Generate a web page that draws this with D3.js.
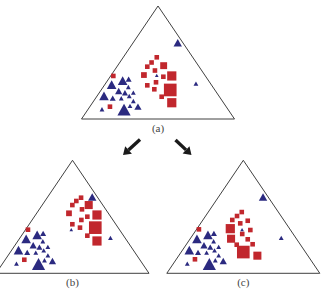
<!DOCTYPE html>
<html>
<meta charset="utf-8">
<style>
  body { margin: 0; background: #fff; }
  svg { width: 324px; height: 293px; display: block; }
  .frame { fill: none; stroke: #2a2a2a; stroke-width: 0.9; }
  .lbl { font-family: "Liberation Serif", "DejaVu Serif", serif; font-size: 11px; fill: #444; }
</style>
<body>
  <svg></svg>
</body>
<script src="https://cdn.jsdelivr.net/npm/d3@7"></script>
<script>

  // positions are in triangle units: u = 0..100 along the base, v = 0..100 from base to apex
  // [u, v, size]
  var blueTriangles = [
    [62.9, 66.4, 7], [74.8, 30.7, 4], [49.2, 38.1, 3], [26.9, 32.7, 8], [30.8, 34.5, 5],
    [19.7, 29.2, 8], [30.6, 27.7, 4], [24.3, 23.9, 6], [28.4, 22.4, 5], [33.9, 22.7, 4],
    [14.7, 19.2, 8], [20.4, 17.7, 5], [26.0, 17.7, 4], [31.2, 19.7, 4], [33.9, 15.3, 4],
    [31.7, 10.9, 4], [36.9, 10.0, 6], [27.8, 6.5, 11], [13.4, 8.0, 4]
  ];

  var redSquaresA = [
    [20.8, 38.1, 4], [49.2, 54.6, 4], [45.8, 50.0, 4], [43.0, 46.3, 4], [53.7, 47.2, 6],
    [48.0, 42.9, 4], [40.8, 38.9, 5], [53.5, 37.4, 4], [59.0, 38.1, 8], [43.0, 29.8, 4],
    [48.7, 32.5, 4], [47.6, 26.3, 4], [58.0, 25.7, 11], [52.4, 19.7, 4], [59.0, 14.4, 8],
    [18.6, 10.9, 4]
  ];

  var redSquaresB = [
    [55.6, 66.9, 4], [52.5, 64.0, 4], [49.9, 60.4, 4], [60.6, 60.4, 7], [56.2, 56.6, 4],
    [47.7, 53.1, 5], [59.7, 50.1, 4], [66.0, 51.6, 8], [55.8, 47.2, 4], [49.9, 43.4, 4],
    [54.9, 40.4, 4], [64.9, 40.4, 11], [59.7, 33.3, 4], [66.0, 28.6, 8], [20.9, 38.6, 4],
    [18.5, 12.0, 4]
  ];

  var redSquaresC = [
    [49.0, 54.2, 4], [45.9, 50.7, 4], [42.8, 47.2, 4], [52.9, 46.5, 4], [48.0, 44.2, 4],
    [41.5, 39.5, 8], [54.6, 38.3, 4], [49.3, 34.8, 4], [42.0, 30.6, 7], [52.9, 30.1, 4],
    [45.7, 25.3, 4], [56.1, 25.7, 4], [50.0, 18.8, 11], [59.2, 15.6, 7], [21.0, 38.9, 4],
    [18.4, 12.4, 4]
  ];

  var panelLabels = ["(a)", "(b)", "(c)"];

  var panels = [
    {left: 81.5, base: 119, squares: redSquaresA, label: panelLabels[0]},
    {left: -4, base: 273.3, squares: redSquaresB, label: panelLabels[1]},
    {left: 166.8, base: 273.3, squares: redSquaresC, label: panelLabels[2]}
  ];

  var triW = 153, triH = 113;
  var red = "#c1272d", blue = "#2b2a80";
  var sq = 1.15, tr = 1.2; // marker size factors

  var svg = d3.select("svg");

  function drawPanel(p){
    var xScale = d3.scaleLinear().domain([0, 100]).range([p.left, p.left + triW]);
    var yScale = d3.scaleLinear().domain([0, 100]).range([p.base, p.base - triH]);

    var g = svg.append("g");

    // triangle frame
    var corners = [[0, 0], [100, 0], [50, 100]];
    g.append("path")
      .attr("class", "frame")
      .attr("d", d3.line().x(function(d){return xScale(d[0]);}).y(function(d){return yScale(d[1]);})(corners) + "Z");

    // red squares
    g.selectAll("rect").data(p.squares).enter()
      .append("rect")
      .attr("x", function(d){return xScale(d[0]) - d[2] * sq / 2;})
      .attr("y", function(d){return yScale(d[1]) - d[2] * sq / 2;})
      .attr("width", function(d){return d[2] * sq;})
      .attr("height", function(d){return d[2] * sq;})
      .attr("fill", red);

    // blue triangles
    g.selectAll("path.tri").data(blueTriangles).enter()
      .append("path")
      .attr("class", "tri")
      .attr("fill", blue)
      .attr("d", function(d){
        var cx = xScale(d[0]), cy = yScale(d[1]), s = d[2] * tr, h = s * 0.9;
        return "M" + cx + "," + (cy - h * 2 / 3) +
               "L" + (cx + s / 2) + "," + (cy + h / 3) +
               "L" + (cx - s / 2) + "," + (cy + h / 3) + "Z";
      });

    g.append("text")
      .attr("class", "lbl")
      .attr("x", xScale(50))
      .attr("y", p.base + 13)
      .attr("text-anchor", "middle")
      .text(p.label);
  }

  panels.forEach(drawPanel);

  // ARROWS from (a) to (b) and (c)
  function arrow(x1, y1, x2, y2){
    var ang = Math.atan2(y2 - y1, x2 - x1);
    var hl = 7.5, hw = 5;
    var bx = x2 - hl * Math.cos(ang), by = y2 - hl * Math.sin(ang);
    svg.append("line")
      .attr("x1", x1).attr("y1", y1).attr("x2", bx).attr("y2", by)
      .attr("stroke", "#1a1a1a").attr("stroke-width", 3.4);
    svg.append("path")
      .attr("fill", "#1a1a1a")
      .attr("d", "M" + x2 + "," + y2 +
        "L" + (bx + hw * Math.sin(ang)) + "," + (by - hw * Math.cos(ang)) +
        "L" + (bx - hw * Math.sin(ang)) + "," + (by + hw * Math.cos(ang)) + "Z");
  }

  arrow(140, 139.5, 123, 155);
  arrow(175.5, 140, 191.5, 155);

</script>
</html>
